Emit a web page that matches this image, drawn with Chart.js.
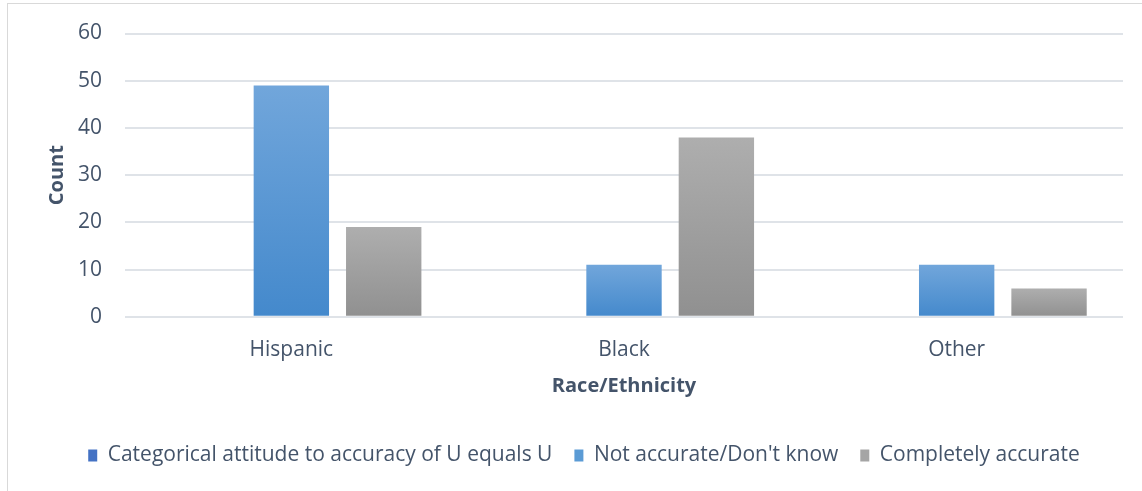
<!DOCTYPE html>
<html>
<head>
<meta charset="utf-8">
<script src="https://cdn.jsdelivr.net/npm/chart.js@4"></script>
<style>
    html, body { margin: 0; padding: 0; background: #fff; overflow: hidden; }
    .frame {
        position: absolute; left: 7px; top: 3px;
        width: 1300px; height: 700px;
        border: 1px solid #d9d9d9;
    }
    .wrap { position: absolute; left: 0; top: 0; width: 1142px; height: 491px; }
</style>
</head>
<body>
<div class="frame"></div>
<div class="wrap"><canvas id="countChart"></canvas></div>
<script>
// categories and series
const categories = ['Hispanic', 'Black', 'Other'];
const seriesNames = ['Categorical attitude to accuracy of U equals U', 'Not accurate/Don\'t know', 'Completely accurate'];
const attitudeValues = [null, null, null];
const notAccurateValues = [49, 11, 11];
const accurateValues = [19, 38, 6];
const yTicks = [0, 10, 20, 30, 40, 50, 60];

const textColor = '#44546a';
const fontFamily = '"Open Sans", "Noto Sans", sans-serif';

// top/bottom colours of each bar's vertical gradient
const barShades = [
    ['#4472c4', '#3a64b0'],
    ['#71a6db', '#4489cc'],
    ['#aeaeae', '#909090']
];
const legendColors = ['#4472c4', '#5b9bd5', '#a5a5a5'];

const barGradient = (shade) => (context) => {
    const chart = context.chart;
    const { ctx, chartArea, scales } = chart;
    if (!chartArea || context.parsed == null || context.parsed.y == null) return shade[1];
    const top = scales.y.getPixelForValue(context.parsed.y);
    const bottom = scales.y.getPixelForValue(0);
    if (!isFinite(top) || top === bottom) return shade[1];
    const g = ctx.createLinearGradient(0, top, 0, bottom);
    g.addColorStop(0, shade[0]);
    g.addColorStop(1, shade[1]);
    return g;
};

const seriesValues = [attitudeValues, notAccurateValues, accurateValues];

new Chart(document.getElementById('countChart'), {
    type: 'bar',
    data: {
        labels: categories,
        datasets: seriesValues.map((values, i) => ({
            label: seriesNames[i],
            data: values,
            backgroundColor: barGradient(barShades[i]),
            borderWidth: 0,
            categoryPercentage: 0.833,
            barPercentage: 0.816
        }))
    },
    options: {
        responsive: true,
        maintainAspectRatio: false,
        animation: false,
        layout: { padding: { left: 45, right: 19, top: 14, bottom: 15 } },
        plugins: {
            tooltip: { enabled: false },
            legend: {
                position: 'bottom',
                labels: {
                    color: textColor,
                    font: { family: fontFamily, size: 21 },
                    boxWidth: 9,
                    boxHeight: 12,
                    padding: 22,
                    generateLabels: (chart) => chart.data.datasets.map((ds, i) => ({
                        text: ds.label,
                        fillStyle: legendColors[i],
                        strokeStyle: legendColors[i],
                        lineWidth: 0,
                        fontColor: textColor,
                        datasetIndex: i
                    }))
                }
            }
        },
        scales: {
            x: {
                grid: { display: false },
                border: { display: false },
                ticks: { color: textColor, font: { family: fontFamily, size: 21 }, padding: 13 },
                title: {
                    display: true,
                    text: 'Race/Ethnicity',
                    color: textColor,
                    font: { family: fontFamily, size: 20, weight: 'bold' },
                    padding: { top: -2, bottom: 25 }
                }
            },
            y: {
                min: 0,
                max: 60,
                afterBuildTicks: (axis) => { axis.ticks = yTicks.map(v => ({ value: v })); },
                grid: { color: '#dfe3e8', lineWidth: 2, drawTicks: false },
                border: { display: false },
                ticks: { color: textColor, font: { family: fontFamily, size: 21, lineHeight: 1.0 }, padding: 23 },
                title: {
                    display: true,
                    text: 'Count',
                    color: textColor,
                    font: { family: fontFamily, size: 20, weight: 'bold' },
                    padding: { top: 0, bottom: -14 }
                }
            }
        }
    }
});
</script>
</body>
</html>
